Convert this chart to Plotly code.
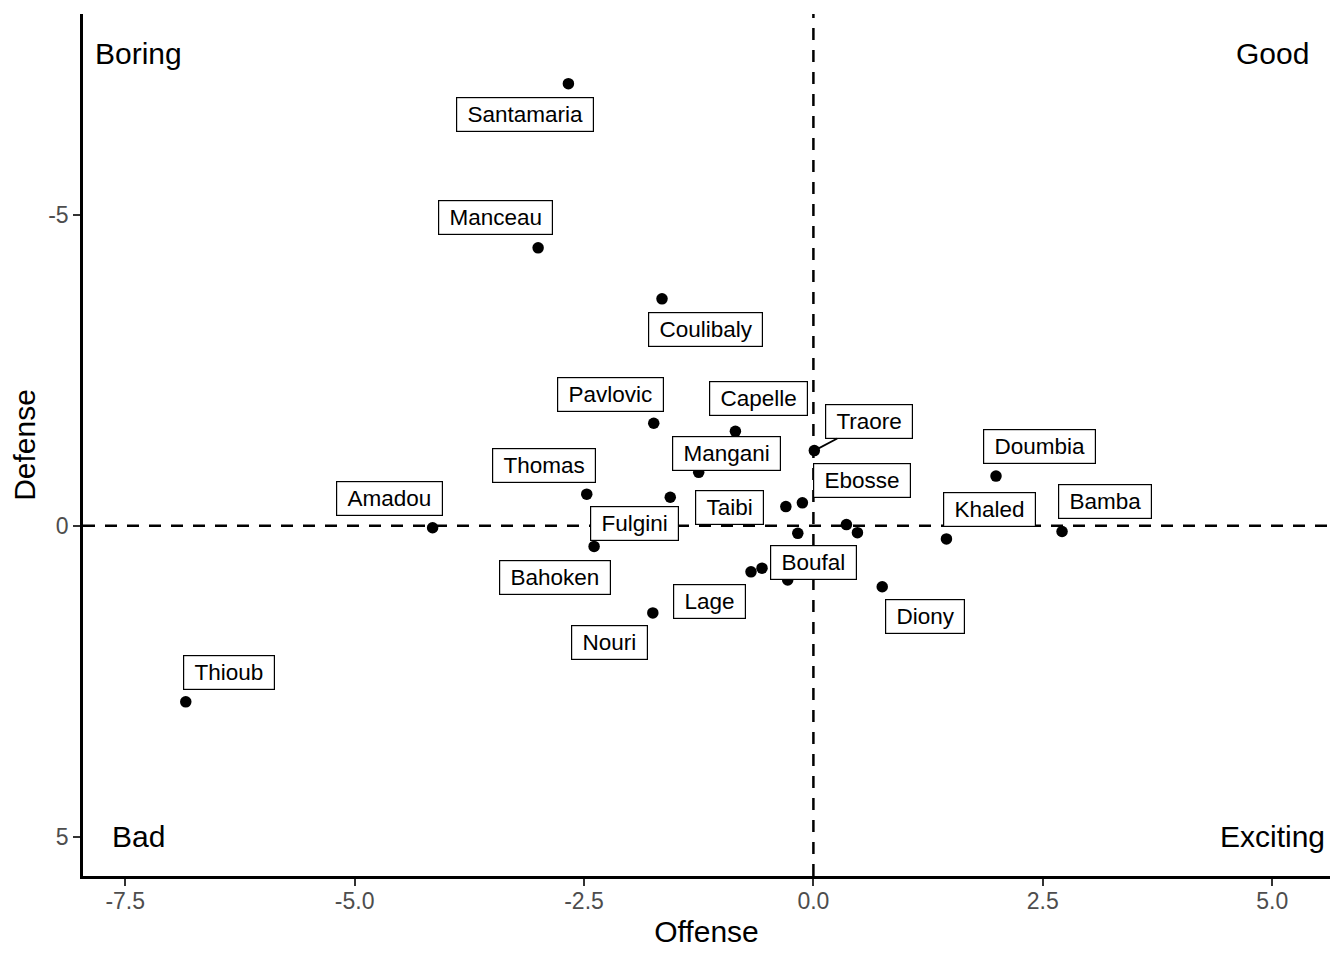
import plotly.graph_objects as go

# ---------------- data ----------------
players = ["Santamaria", "Manceau", "Coulibaly", "Pavlovic", "Capelle", "Traore",
           "Mangani", "Thomas", "Fulgini", "Taibi", "", "Amadou", "Ebosse", "", "",
           "Khaled", "Bamba", "Bahoken", "Lage", "Boufal", "", "Diony", "Nouri",
           "Doumbia", "Thioub"]
offense = [-2.67, -3.00, -1.65, -1.74, -0.85, 0.01, -1.25, -2.47, -1.56, -0.30,
           -0.12, -4.15, 0.36, 0.48, -0.17, 1.45, 2.71, -2.39, -0.68, -0.56,
           -0.28, 0.75, -1.75, 1.99, -6.84]
defense = [-7.11, -4.47, -3.65, -1.65, -1.52, -1.21, -0.86, -0.51, -0.46, -0.31,
           -0.37, 0.03, -0.02, 0.11, 0.12, 0.21, 0.09, 0.33, 0.74, 0.68,
           0.87, 0.98, 1.40, -0.80, 2.83]

quadrant_text = ["Boring", "Good", "Bad", "Exciting"]
x_ticks = [-7.5, -5.0, -2.5, 0.0, 2.5, 5.0]
x_tick_labels = ["-7.5", "-5.0", "-2.5", "0.0", "2.5", "5.0"]
y_ticks = [-5, 0, 5]
y_tick_labels = ["-5", "0", "5"]

# ---------------- layout / style ----------------
FONT = "Liberation Sans, Arial, Helvetica, sans-serif"
QUAD_X = [-7.35, 5.0, -7.35, 5.0]
QUAD_Y = [-7.6, -7.6, 5.0, 5.0]
# label box offsets in pixels (dx right, dy down) from each point
label_offset = {
    "Santamaria": (-43, 31), "Manceau": (-43, -30), "Coulibaly": (43, 31),
    "Pavlovic": (-43, -29), "Capelle": (23, -33), "Traore": (55, -29),
    "Mangani": (28, -19), "Thomas": (-43, -29), "Fulgini": (-36, 26),
    "Taibi": (-56, 1), "Amadou": (-43, -29), "Ebosse": (16, -44),
    "Khaled": (43, -29), "Bamba": (43, -30), "Bahoken": (-39, 31),
    "Lage": (-42, 30), "Boufal": (51, -6), "Diony": (43, 30),
    "Nouri": (-43, 30), "Doumbia": (43, -30), "Thioub": (43, -29),
}
segment_labels = {"Traore"}
DASH = "12px,10px"

fig = go.Figure()

fig.add_vline(x=0, line_dash=DASH, line_width=2.5, line_color="black", layer="below")
fig.add_hline(y=0, line_dash=DASH, line_width=2.5, line_color="black", layer="below")

fig.add_trace(go.Scatter(
    x=offense, y=defense, mode="markers",
    marker=dict(color="black", size=11.5, line=dict(width=0)),
    text=players, hoverinfo="text", showlegend=False,
))

for name, xv, yv in zip(players, offense, defense):
    if not name:
        continue
    dx, dy = label_offset[name]
    fig.add_annotation(
        x=xv, y=yv, xref="x", yref="y",
        text="\u00a0" + name + "\u00a0",
        showarrow=True, ax=dx, ay=dy, axref="pixel", ayref="pixel",
        arrowhead=0, arrowwidth=1.8,
        arrowcolor="black" if name in segment_labels else "rgba(0,0,0,0)",
        standoff=0,
        bgcolor="white", bordercolor="black", borderwidth=1.2, borderpad=4,
        font=dict(family=FONT, size=22.5, color="black"),
    )

for t, qx, qy in zip(quadrant_text, QUAD_X, QUAD_Y):
    fig.add_annotation(
        x=qx, y=qy, xref="x", yref="y", text=t, showarrow=False,
        xanchor="center", yanchor="middle",
        font=dict(family=FONT, size=30, color="black"),
    )

fig.update_layout(
    width=1344, height=960,
    margin=dict(l=75, r=22, t=6, b=92),
    plot_bgcolor="white", paper_bgcolor="white",
    font=dict(family=FONT),
    xaxis=dict(
        range=[-7.96, 5.63], showgrid=False, zeroline=False,
        showline=True, linecolor="black", linewidth=2.5,
        ticks="outside", ticklen=7, tickwidth=2, tickcolor="#333333",
        tickvals=x_ticks, ticktext=x_tick_labels, ticklabelstandoff=-4,
        tickfont=dict(family=FONT, size=23, color="#4D4D4D"),
        title=dict(text="Offense", font=dict(family=FONT, size=30, color="black"), standoff=8),
    ),
    yaxis=dict(
        range=[5.63, -8.23], showgrid=False, zeroline=False,
        showline=True, linecolor="black", linewidth=2.5,
        ticks="outside", ticklen=7, tickwidth=2, tickcolor="#333333",
        tickvals=y_ticks, ticktext=y_tick_labels,
        tickfont=dict(family=FONT, size=23, color="#4D4D4D"),
        title=dict(text="Defense", font=dict(family=FONT, size=30, color="black"), standoff=8),
    ),
)

fig.write_html("out.html")
